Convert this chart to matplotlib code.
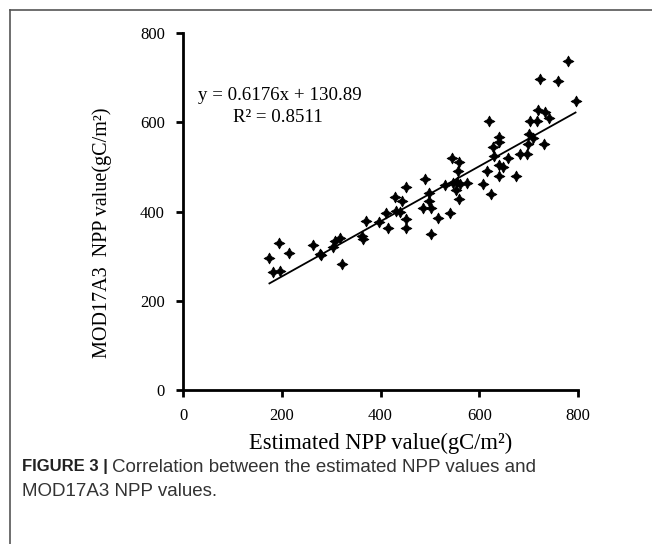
import matplotlib
matplotlib.use("Agg")
import matplotlib.pyplot as plt
from matplotlib.lines import Line2D
import numpy as np

# Estimated NPP (x) vs MOD17A3 NPP (y), gC/m2
est_npp = [175, 183, 196, 194, 215, 263, 277, 280, 304, 308, 318, 323, 362, 364,
           370, 396, 412, 415, 429, 431, 439, 444, 451, 451, 451, 491, 498, 499,
           487, 502, 516, 502, 531, 541, 545, 559, 557, 546, 555, 562, 576, 553,
           559, 641, 639, 627, 630, 659, 639, 649, 616, 639, 608, 623, 674, 682,
           697, 701, 699, 708, 731, 780, 723, 759, 795, 720, 733, 741, 703, 716,
           620]
mod_npp = [296, 265, 267, 329, 308, 325, 304, 302, 321, 334, 340, 282, 345, 338,
           379, 376, 397, 364, 433, 401, 398, 424, 456, 383, 364, 472, 441, 424,
           408, 407, 386, 350, 459, 397, 519, 512, 491, 464, 467, 462, 465, 448,
           428, 568, 555, 544, 524, 519, 505, 499, 491, 480, 462, 440, 480, 530,
           529, 574, 551, 565, 551, 738, 698, 693, 648, 627, 624, 609, 603, 603,
           603]
slope = 0.6176
intercept = 130.89
r2 = 0.8511
ticks = [0, 200, 400, 600, 800]

serif = ["Liberation Serif", "DejaVu Serif"]
sans = ["Liberation Sans", "DejaVu Sans"]

fig = plt.figure(figsize=(6.52, 5.44), dpi=100)
ax = fig.add_axes([0.2807, 0.283, 0.6058, 0.6563])

ax.scatter(est_npp, mod_npp, marker=(4, 1, 0), s=60, color="black", linewidths=0.6,
           edgecolors="black", zorder=3, clip_on=False)
xl = np.array([min(est_npp), max(est_npp)])
ax.plot(xl, slope * xl + intercept, color="black", lw=1.3, zorder=2)

ax.set_xlim(0, 800)
ax.set_ylim(0, 800)
ax.set_xticks(ticks)
ax.set_yticks(ticks)
ax.set_xticklabels([str(t) for t in ticks], fontfamily=serif, fontsize=12)
ax.set_yticklabels([str(t) for t in ticks], fontfamily=serif, fontsize=12)
for s in ["top", "right"]:
    ax.spines[s].set_visible(False)
for s in ["left", "bottom"]:
    ax.spines[s].set_linewidth(2)
ax.tick_params(direction="out", length=5, width=2, pad=8)

ax.set_xlabel("Estimated NPP value(gC/m²)", fontfamily=serif, fontsize=16.3, labelpad=6)
ax.set_ylabel("MOD17A3  NPP value(gC/m²)", fontfamily=serif, fontsize=14.5)
ax.yaxis.set_label_coords(-0.18, 0.44)

ax.text(30, 660, f"y = {slope}x + {intercept}", fontfamily=serif, fontsize=13.6,
        ha="left", va="center")
ax.text(192, 611, f"R² = {r2}", fontfamily=serif, fontsize=13.6,
        ha="center", va="center")

# caption
fig.text(22 / 652, 1 - 467 / 544, "FIGURE 3 |", fontfamily=sans, fontsize=12,
         fontweight="bold", color="#222222", va="center", ha="left")
fig.text(112 / 652, 1 - 467 / 544, "Correlation between the estimated NPP values and",
         fontfamily=sans, fontsize=13.5, color="#333333", va="center", ha="left")
fig.text(22 / 652, 1 - 492 / 544, "MOD17A3 NPP values.",
         fontfamily=sans, fontsize=13.5, color="#333333", va="center", ha="left")

# frame
fig.add_artist(Line2D([9.5 / 652, 9.5 / 652], [0, 1 - 9.5 / 544], color="#555555",
                      lw=1.2, transform=fig.transFigure))
fig.add_artist(Line2D([9.5 / 652, 1], [1 - 9.5 / 544, 1 - 9.5 / 544], color="#555555",
                      lw=1.2, transform=fig.transFigure))

fig.savefig("out.png", dpi=100)
